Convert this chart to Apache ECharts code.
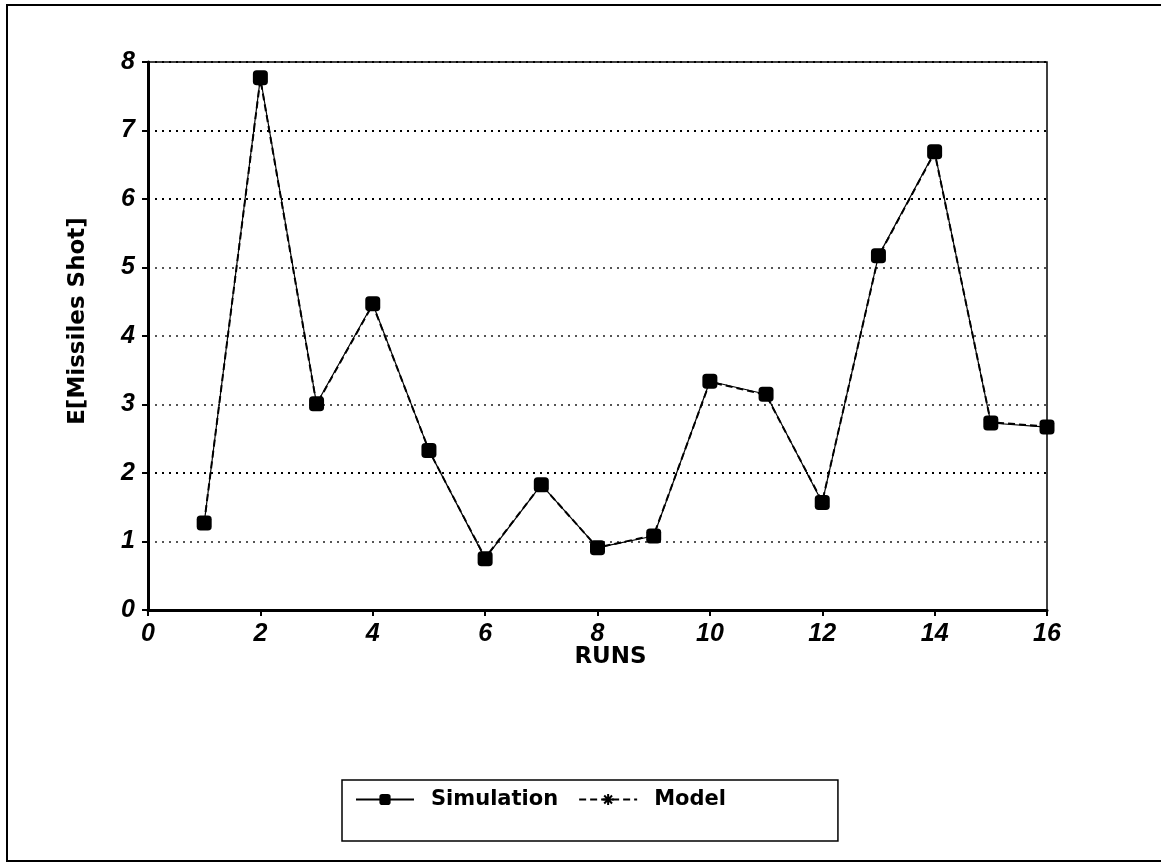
<!DOCTYPE html>
<html>
<head>
<meta charset="utf-8">
<script src="https://cdn.jsdelivr.net/npm/echarts@6/dist/echarts.min.js"></script>
<style>
  html, body { margin: 0; padding: 0; background: #fff; }
  #chart { width: 1161px; height: 863px; }
</style>
</head>
<body>
<div id="chart"></div>
<script>
// runs 1..16
const runs = [1, 2, 3, 4, 5, 6, 7, 8, 9, 10, 11, 12, 13, 14, 15, 16];
// E[Missiles Shot]
const simulation = [1.27, 7.77, 3.01, 4.47, 2.33, 0.75, 1.83, 0.91, 1.08, 3.34, 3.15, 1.57, 5.17, 6.69, 2.73, 2.67];
const model = [1.27, 7.75, 3.0, 4.46, 2.33, 0.76, 1.83, 0.91, 1.09, 3.33, 3.14, 1.58, 5.16, 6.68, 2.74, 2.68];

const asterisk = 'path://M5,0L5,10M0,5L10,5M1.5,1.5L8.5,8.5M8.5,1.5L1.5,8.5';
const labelFont = 'Liberation Sans, Arial, sans-serif';
const nameFont = 'DejaVu Sans, sans-serif';

const myChart = echarts.init(document.getElementById('chart'));

const option = {
  backgroundColor: '#fff',
  animation: false,
  graphic: [
    {
      // outer frame of the figure
      type: 'rect',
      shape: { x: 7, y: 5, width: 1170, height: 856 },
      style: { fill: 'none', stroke: '#000', lineWidth: 2 },
      silent: true
    }
  ],
  grid: {
    left: 148,
    right: 114,
    top: 62,
    bottom: 253,
    show: true,
    borderColor: '#000',
    borderWidth: 1.5
  },
  legend: {
    data: ['Simulation', 'Model'],
    left: 342,
    top: 780,
    padding: [9, 112, 31, 13],
    itemGap: 20,
    itemWidth: 58,
    itemHeight: 14,
    borderColor: '#000',
    borderWidth: 1.5,
    textStyle: {
      fontFamily: nameFont,
      fontSize: 21,
      fontWeight: 'bold',
      color: '#000',
      padding: [0, 0, 0, 12]
    }
  },
  xAxis: {
    type: 'value',
    min: 0,
    max: 16,
    interval: 2,
    name: 'RUNS',
    nameLocation: 'middle',
    nameGap: 36,
    nameMoveOverlap: false,
    nameTextStyle: {
      fontFamily: nameFont,
      fontSize: 23,
      fontWeight: 'bold',
      color: '#000',
      padding: [0, 0, 0, 26]
    },
    axisLine: { lineStyle: { color: '#000', width: 3 } },
    axisTick: { length: 6, lineStyle: { color: '#000', width: 2 } },
    axisLabel: {
      fontFamily: labelFont,
      fontSize: 25,
      fontStyle: 'italic',
      fontWeight: 'bold',
      color: '#000',
      margin: 12
    },
    splitLine: { show: false }
  },
  yAxis: {
    type: 'value',
    min: 0,
    max: 8,
    interval: 1,
    name: 'E[Missiles Shot]',
    nameLocation: 'middle',
    nameGap: 58,
    nameRotate: 90,
    nameTextStyle: {
      fontFamily: nameFont,
      fontSize: 23,
      fontWeight: 'bold',
      color: '#000',
      padding: [0, 0, 0, 30]
    },
    axisLine: { lineStyle: { color: '#000', width: 3 } },
    axisTick: { length: 6, lineStyle: { color: '#000', width: 2 } },
    axisLabel: {
      fontFamily: labelFont,
      fontSize: 25,
      fontStyle: 'italic',
      fontWeight: 'bold',
      color: '#000',
      margin: 13
    },
    splitLine: {
      show: true,
      lineStyle: {
        type: [2, 5],
        width: 2,
        color: ['#000', '#555', '#000', '#555', '#555', '#555', '#000', '#000', '#000']
      }
    }
  },
  series: [
    {
      name: 'Model',
      type: 'line',
      data: runs.map((r, i) => [r, model[i]]),
      symbol: asterisk,
      symbolSize: 10,
      itemStyle: { color: '#000', borderColor: '#000', borderWidth: 1.5 },
      lineStyle: { color: '#000', width: 2, type: [7, 4] },
      z: 2
    },
    {
      name: 'Simulation',
      type: 'line',
      data: runs.map((r, i) => [r, simulation[i]]),
      symbol: 'roundRect',
      symbolSize: 15,
      itemStyle: { color: '#000' },
      lineStyle: { color: '#000', width: 1.2 },
      z: 3
    }
  ]
};

myChart.setOption(option);
</script>
</body>
</html>
